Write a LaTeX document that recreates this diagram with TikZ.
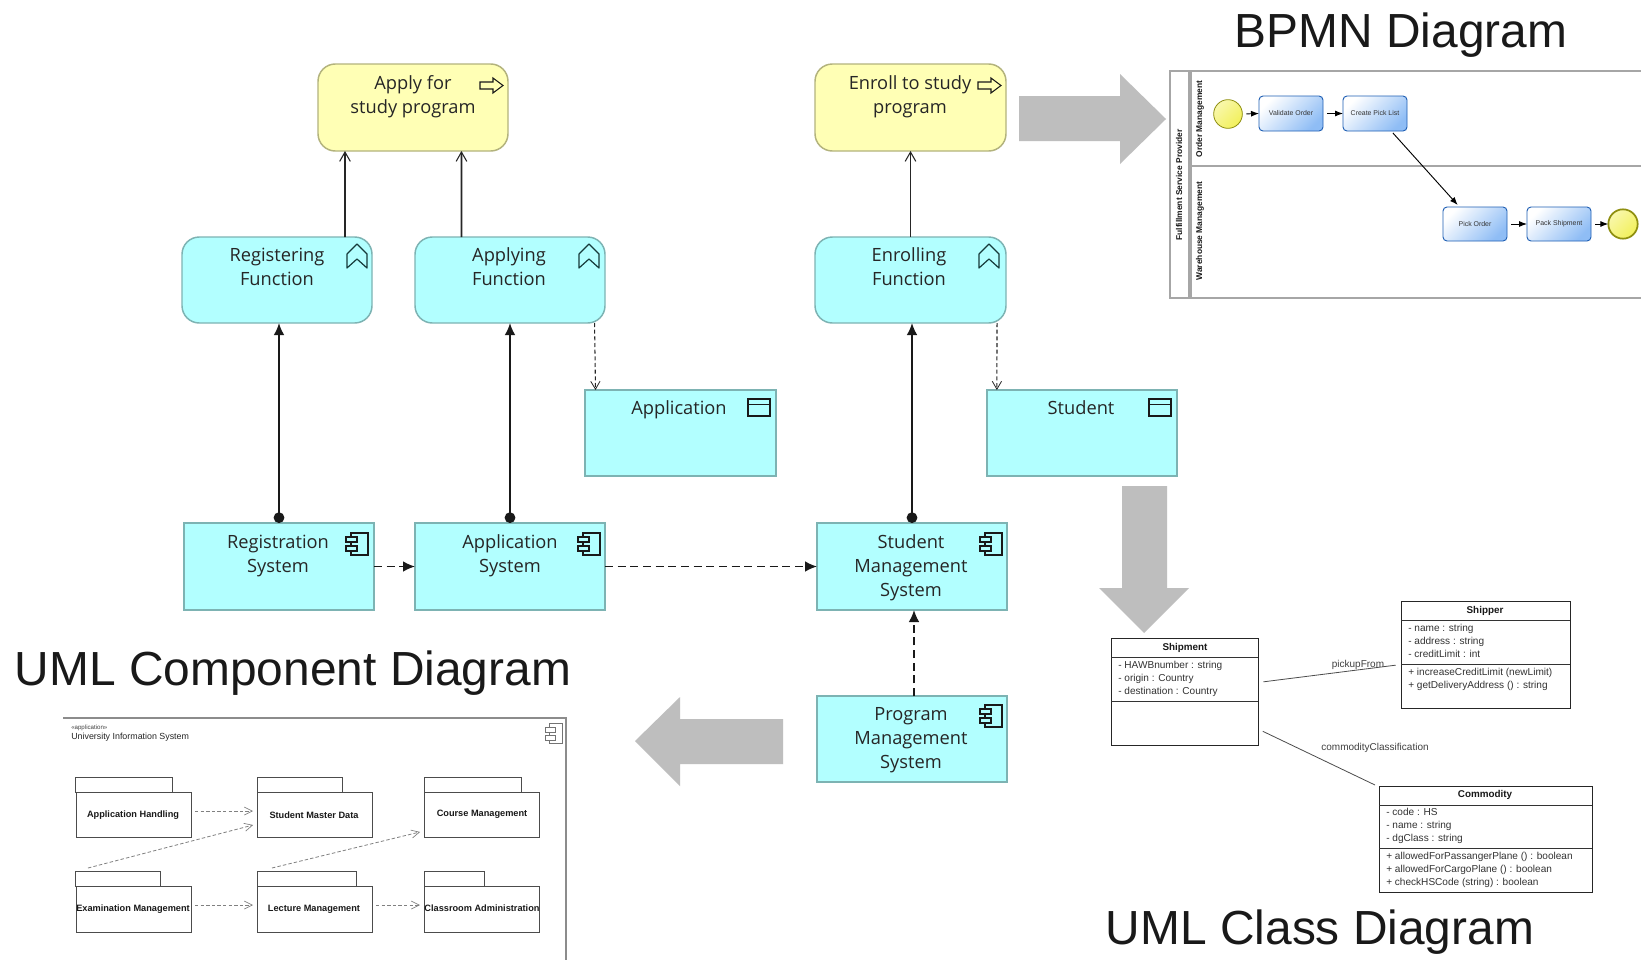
\documentclass[tikz,border=0pt]{standalone}
\usepackage{fontspec}
\setmainfont{Liberation Sans}
\newfontfamily\segoe{Open Sans}
\usetikzlibrary{arrows.meta,calc,fit}
\definecolor{appcyan}{HTML}{B2FFFF}
\definecolor{appedge}{HTML}{7DB3B3}
\definecolor{bizyellow}{HTML}{FFFFB5}
\definecolor{bizedge}{HTML}{B3B37D}
\definecolor{arrowgrey}{HTML}{BEBEBE}
\definecolor{laneline}{HTML}{A6A6A6}
\definecolor{taskedge}{HTML}{1F5FB4}
\definecolor{taskblue}{HTML}{8FBDF5}
\definecolor{evyellow}{HTML}{F2F05A}
\definecolor{evedge}{HTML}{8F8F10}
\definecolor{icondark}{HTML}{163A3A}
\tikzset{
  x=0.75pt,y=-0.75pt,
  fitbox/.style={inner sep=0pt,outer sep=0pt},
  fnbox/.style={fitbox,draw=appedge,fill=appcyan,line width=1.1pt,rounded corners=13pt},
  bizbox/.style={fitbox,draw=bizedge,fill=bizyellow,line width=1.1pt,rounded corners=13pt},
  appbox/.style={fitbox,draw=appedge,fill=appcyan,line width=1.1pt},
  lbl/.style={font=\segoe\fontsize{13.7}{18}\selectfont,align=center,text=black!85,inner sep=0pt,text height=11pt,text depth=3pt},
  heading/.style={font=\fontsize{35.9}{40}\selectfont,inner sep=0pt,text=black!90},
  realiz/.style={draw=black!85,line width=1.4pt,-{Straight Barb[length=7pt,width=8pt,line width=.8pt]}},
  assign/.style={draw=black!90,line width=1.3pt,{Circle[length=8pt,width=8pt]}-{Latex[length=9pt,width=8pt]}},
  accessln/.style={draw=black!85,line width=.8pt,densely dashed,-{Straight Barb[length=6pt,width=7pt,line width=.6pt]}},
  flowln/.style={draw=black!90,line width=1.2pt,dash pattern=on 6pt off 3.5pt,-{Latex[length=9pt,width=8pt]}},
  icon/.style={draw=black!90,line width=.8pt},
  fnicon/.style={draw=icondark,line width=.9pt},
  bigarrow/.style={fill=arrowgrey,draw=none},
  lane/.style={draw=laneline,line width=1.3pt},
  lanetxt/.style={font=\bfseries\fontsize{6.3}{7}\selectfont,rotate=90,inner sep=0pt,text=black!90},
  taskbox/.style={fitbox,draw=taskedge,line width=.7pt,rounded corners=3pt,left color=white,right color=taskblue,shading angle=45},
  tasktxt/.style={font=\fontsize{5.2}{6}\selectfont,text=black!80,inner sep=0pt},
  evstart/.style={fitbox,circle,minimum size=21.5pt,draw=evedge,line width=.6pt,left color=white!50!evyellow,right color=evyellow,shading angle=45},
  evend/.style={fitbox,circle,minimum size=22pt,draw=evedge,line width=1.3pt,left color=white!50!evyellow,right color=evyellow,shading angle=45},
  seqflow/.style={draw=black,line width=.7pt,-{Latex[length=6pt,width=4.5pt]}},
  classbox/.style={fitbox,draw=black!85,line width=.75pt},
  classline/.style={draw=black!80,line width=.7pt},
  classtitle/.style={font=\bfseries\fontsize{7.4}{8}\selectfont,inner sep=0pt,text=black!90},
  member/.style={font=\fontsize{7.55}{9.75}\selectfont,inner sep=0pt,align=left,anchor=north west,text=black!80},
  assocln/.style={draw=black!70,line width=.6pt},
  assoctxt/.style={font=\fontsize{7.5}{9}\selectfont,inner sep=0pt,text=black!75},
  frameln/.style={draw=black!45,line width=1pt},
  pkgbody/.style={fitbox,draw=black!70,line width=.7pt,fill=white,font=\bfseries\fontsize{6.9}{8}\selectfont,text=black!90},
  pkgtab/.style={fitbox,draw=black!70,line width=.7pt,fill=white},
  depln/.style={draw=black!50,line width=.6pt,dash pattern=on 2.6pt off 1.6pt,-{Straight Barb[length=6pt,width=6pt,line width=.5pt]}},
}
\newcommand{\procicon}[2]{\draw[icon,shift={(#1,#2)}] (0,4)--(13,4)--(13,0)--(23,7.5)--(13,15)--(13,11)--(0,11)--cycle;}
\newcommand{\fnicon}[2]{\draw[fnicon,shift={(#1,#2)},line join=round] (0,10)--(10,0)--(20,10)--(20,24)--(10,15)--(0,24)--cycle;}
\newcommand{\dataicon}[2]{\begin{scope}[shift={(#1,#2)}]\draw[icon] (0,0) rectangle (22,17);\draw[icon] (0,5.5)--(22,5.5);\end{scope}}
\newcommand{\compicon}[2]{\begin{scope}[shift={(#1,#2)}]\draw[icon] (5,0) rectangle (22,22);\draw[icon,fill=appcyan] (0,4) rectangle (11,9);\draw[icon,fill=appcyan] (0,13) rectangle (11,18);\end{scope}}
\begin{document}
\begin{tikzpicture}
\useasboundingbox (0,0) rectangle (1641,960);
\fill[white] (0,0) rectangle (1641,960);

% Headings
\node[heading] (hbpmn) at (1401,35) {BPMN Diagram};
\node[heading] (hcomp) at (293,673) {UML Component Diagram};
\node[heading] (hclass) at (1320,932) {UML Class Diagram};

% Grey arrows
\fill[bigarrow] (1019,96)--(1120,96)--(1120,74)--(1166,119)--(1120,164)--(1120,141)--(1019,141)--cycle;
\fill[bigarrow] (1122,486)--(1167,486)--(1167,588)--(1189,588)--(1144,633)--(1099,588)--(1122,588)--cycle;
\fill[bigarrow] (783,719)--(680,719)--(680,697)--(635,741)--(680,786)--(680,764)--(783,764)--cycle;

% Business layer
\node[bizbox,fit={(318,64)(508,151)}] (apply) {};
\node[bizbox,fit={(815,64)(1006,151)}] (enroll) {};
\node[fnbox,fit={(182,237)(372,323)}] (regf) {};
\node[fnbox,fit={(415,237)(605,323)}] (appf) {};
\node[fnbox,fit={(815,237)(1006,323)}] (enrf) {};
\node[appbox,fit={(585,390)(776,476)}] (appdata) {};
\node[appbox,fit={(987,390)(1177,476)}] (studdata) {};
\node[appbox,fit={(184,523)(374,610)}] (regsys) {};
\node[appbox,fit={(415,523)(605,610)}] (appsys) {};
\node[appbox,fit={(817,523)(1007,610)}] (stusys) {};
\node[appbox,fit={(817,696)(1007,782)}] (prgsys) {};

\node[lbl] (t1) at (413,108) {Apply for\\study program};
\node[lbl] (t2) at (910,108) {Enroll to study\\program};
\node[lbl] (t3) at (277,280.5) {Registering\\Function};
\node[lbl] (t4) at (509,280.5) {Applying\\Function};
\node[lbl] (t5) at (909,280.5) {Enrolling\\Function};
\node[lbl] (t6) at (679,409) {Application};
\node[lbl] (t7) at (1081,409) {Student};
\node[lbl] (t8) at (278,567) {Registration\\System};
\node[lbl] (t9) at (510,567) {Application\\System};
\node[lbl] (t10) at (911,591) {Student\\Management\\System};
\node[lbl] (t11) at (911,763.5) {Program\\Management\\System};

\procicon{480}{78}
\procicon{978}{78}
\fnicon{347}{244}
\fnicon{579}{244}
\fnicon{979}{244}
\dataicon{748}{399}
\dataicon{1149}{399}
\compicon{346}{533}
\compicon{578}{533}
\compicon{980}{533}
\compicon{980}{705}

% ArchiMate connectors
\draw[realiz] ($(regf.north west)!.858!(regf.north east)$) -- ($(apply.south west)!.142!(apply.south east)$);
\draw[realiz] ($(appf.north west)!.245!(appf.north east)$) -- ($(apply.south west)!.755!(apply.south east)$);
\draw[realiz] (enrf.north) -- (enroll.south);
\draw[assign] (regsys.north) -- (regf.south -| regsys.north);
\draw[assign] (appsys.north) -- (appf.south -| appsys.north);
\draw[assign] (stusys.north) -- (enrf.south -| stusys.north);
\draw[accessln] ($(appf.south west)!.945!(appf.south east)$) -- ($(appdata.north west)!.055!(appdata.north east)$);
\draw[accessln] ($(enrf.south west)!.953!(enrf.south east)$) -- ($(studdata.north west)!.052!(studdata.north east)$);
\draw[flowln] (regsys.east) -- (appsys.west);
\draw[flowln] (appsys.east) -- (stusys.west);
\draw[flowln] ($(prgsys.north)+(2,0)$) -- ($(stusys.south)+(2,0)$);

% BPMN
\coordinate (poolright) at (1641,71);
\coordinate (poolbr) at (1641,298);
\draw[lane] (poolright) -- (1170,71) -- (1170,298) -- (poolbr);
\draw[laneline,line width=2.4pt] (1190,71) -- (1190,298);
\draw[lane] (1190,166) -- (1641,166);
\node[lanetxt] (bp1) at (1179,185) {Fulfillment Service Provider};
\node[lanetxt] (bp2) at (1200,119) {Order Management};
\node[lanetxt] (bp3) at (1200,231) {Warehouse Management};
\node[evstart] (ev1) at (1228,114) {};
\node[evend] (ev2) at (1623,224) {};
\node[taskbox,fit={(1259,96)(1323,131)}] (task1) {};
\node[taskbox,fit={(1343,96)(1407,131)}] (task2) {};
\node[taskbox,fit={(1443,207)(1507,241)}] (task3) {};
\node[taskbox,fit={(1527,207)(1591,241)}] (task4) {};
\node[tasktxt] at (task1) (tt1) {Validate Order};
\node[tasktxt] at (task2) (tt2) {Create Pick List};
\node[tasktxt] at (task3) (tt3) {Pick Order};
\node[tasktxt] at (task4) (tt4) {Pack Shipment};
\draw[seqflow,shorten <=3pt] (ev1.east) -- (task1.west);
\draw[seqflow,shorten <=3pt] (task1.east) -- (task2.west);
\draw[seqflow,shorten <=3pt] (task3.east) -- (task4.west);
\draw[seqflow,shorten <=3pt] (task4.east) -- (ev2.west);
\draw[seqflow] ($(task2.south west)!.78!(task2.south east)+(0,2)$) -- ($(task3.north west)!.23!(task3.north east)+(0,-2)$);

% UML class diagram
\node[classbox,fit={(1111,638)(1258,745)}] (ship) {};
\draw[classline] (1111,657) -- (1258,657);
\draw[classline] (1111,701) -- (1258,701);
\node[classtitle] at (1185,648) (shipT) {Shipment};
\node[member] at (1118,660.5) (shipA) {- HAWBnumber : string\\- origin : Country\\- destination : Country};
\node[classbox,fit={(1401,601)(1570,708)}] (shipper) {};
\draw[classline] (1401,620) -- (1570,620);
\draw[classline] (1401,664) -- (1570,664);
\node[classtitle] at (1485,611) (shipperT) {Shipper};
\node[member] at (1408,623.5) (shipperA) {- name : string\\- address : string\\- creditLimit : int};
\node[member] at (1408,667.5) (shipperB) {+ increaseCreditLimit (newLimit)\\+ getDeliveryAddress () : string};
\node[classbox,fit={(1379,786)(1592,892)}] (comm) {};
\draw[classline] (1379,805) -- (1592,805);
\draw[classline] (1379,848) -- (1592,848);
\node[classtitle] at (1485,795) (commT) {Commodity};
\node[member] at (1386,807.5) (commA) {- code : HS\\- name : string\\- dgClass : string};
\node[member] at (1386,851.5) (commB) {+ allowedForPassangerPlane () : boolean\\+ allowedForCargoPlane () : boolean\\+ checkHSCode (string) : boolean};
\draw[assocln,shorten <=4pt,shorten >=4pt] (ship.east |- 0,682.5) -- (shipper.west |- 0,664.5);
\draw[assocln,shorten <=4pt] (ship.east |- 0,729) -- (1375,785);
\node[assoctxt] at (1358,664.5) (as1) {pickupFrom};
\node[assoctxt] at (1375,747.5) (as2) {commodityClassification};

% UML component diagram
\draw[frameln] (63,718) -- (566,718) -- (566,960);
\node[font=\fontsize{4.6}{5}\selectfont,anchor=west,inner sep=0pt,text=black!75] at (71,728) (stereo) {«application»};
\node[font=\fontsize{6.65}{8}\selectfont,anchor=west,inner sep=0pt,text=black!85] at (71,737.5) (uis) {University Information System};
\begin{scope}[draw=black!55,line width=.6pt]
\draw (549,723) rectangle (562,743);
\draw[fill=white] (545,727) rectangle (555,732);
\draw[fill=white] (545,735) rectangle (555,740);
\end{scope}
\node[pkgtab,fit={(75,777)(172,792)}] (tab1) {};
\node[pkgtab,fit={(257,777)(342,792)}] (tab2) {};
\node[pkgtab,fit={(424,777)(521,792)}] (tab3) {};
\node[pkgtab,fit={(75,871)(160,886)}] (tab4) {};
\node[pkgtab,fit={(257,871)(356,886)}] (tab5) {};
\node[pkgtab,fit={(424,871)(484,886)}] (tab6) {};
\node[pkgbody,fit={(76,792)(191,837)}] (p1) {};
\node[pkgbody,fit={(257,792)(372,837)}] (p2) {};
\node[pkgbody,fit={(424,792)(539,837)}] (p3) {};
\node[pkgbody,fit={(76,886)(191,932)}] (p4) {};
\node[pkgbody,fit={(257,886)(372,932)}] (p5) {};
\node[pkgbody,fit={(424,886)(539,932)}] (p6) {};
\node[pkgbody,draw=none,fill=none] at (133,815) (pt1) {Application Handling};
\node[pkgbody,draw=none,fill=none] at (314,815) (pt2) {Student Master Data};
\node[pkgbody,draw=none,fill=none] at (482,814.5) (pt3) {Course Management};
\node[pkgbody,draw=none,fill=none] at (133,909) (pt4) {Examination Management};
\node[pkgbody,draw=none,fill=none] at (314,909) (pt5) {Lecture Management};
\node[pkgbody,draw=none,fill=none] at (482,908.5) (pt6) {Classroom Administration};
\draw[depln,shorten <=3pt,shorten >=3pt] (p1.east |- 0,811) -- (p2.west |- 0,811);
\draw[depln,shorten >=3pt] (88,868) -- (p2.west |- 0,824);
\draw[depln,shorten >=3pt] (272,868) -- (p3.west |- 0,831);
\draw[depln,shorten <=3pt,shorten >=3pt] (p4.east |- 0,905) -- (p5.west |- 0,905);
\draw[depln,shorten <=3pt,shorten >=3pt] (p5.east |- 0,905) -- (p6.west |- 0,905);
\end{tikzpicture}
\end{document}
